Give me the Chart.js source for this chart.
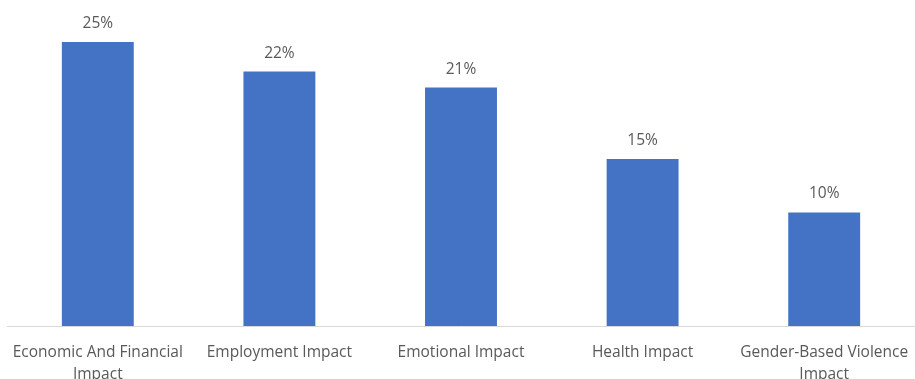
<!DOCTYPE html>
<html>
<head>
<meta charset="utf-8">
<script src="https://cdn.jsdelivr.net/npm/chart.js@4/dist/chart.umd.min.js"></script>
<style>
  html, body { margin: 0; padding: 0; background: #fff; overflow: hidden; }
  #wrap { position: relative; width: 915px; height: 400px; }
</style>
</head>
<body>
<div id="wrap"><canvas id="chart"></canvas></div>
<script>
// Data
const categories = [
    ['Economic And Financial', 'Impact'],
    'Employment Impact',
    'Emotional Impact',
    'Health Impact',
    ['Gender-Based Violence', 'Impact']
];
const percentValues = [25, 22.4, 21, 14.7, 10];

const barColor = '#4472C4';
const textColor = '#595959';
const fontFamily = "'Open Sans', 'Noto Sans', sans-serif";

// Label di atas batang
const valueLabels = {
    id: 'valueLabels',
    afterDatasetsDraw(chart) {
        const ctx = chart.ctx;
        const meta = chart.getDatasetMeta(0);
        ctx.save();
        ctx.fillStyle = textColor;
        ctx.font = '15.5px ' + fontFamily;
        ctx.textAlign = 'center';
        ctx.textBaseline = 'alphabetic';
        meta.data.forEach((bar, i) => {
            ctx.fillText(Math.round(percentValues[i]) + '%', bar.x, bar.y - 14);
        });
        ctx.restore();
    }
};

new Chart(document.getElementById('chart'), {
    type: 'bar',
    data: {
        labels: categories,
        datasets: [{
            data: percentValues,
            backgroundColor: barColor,
            borderWidth: 0,
            categoryPercentage: 1,
            barPercentage: 0.396
        }]
    },
    options: {
        responsive: true,
        maintainAspectRatio: false,
        animation: false,
        layout: { padding: { left: 7, right: 0, top: 8, bottom: 0 } },
        plugins: {
            legend: { display: false },
            tooltip: { enabled: false }
        },
        scales: {
            y: {
                display: false,
                min: 0,
                max: 28
            },
            x: {
                grid: { display: false, drawTicks: false },
                border: { display: true, color: '#D9D9D9', width: 1 },
                ticks: {
                    color: textColor,
                    font: { family: fontFamily, size: 15.5, lineHeight: 1.42 },
                    padding: 16,
                    autoSkip: false,
                    maxRotation: 0
                },
                afterFit(scale) {
                    scale.height = 74;
                    scale.paddingLeft = 0;
                    scale.paddingRight = 0;
                }
            }
        }
    },
    plugins: [valueLabels]
});
</script>
</body>
</html>
